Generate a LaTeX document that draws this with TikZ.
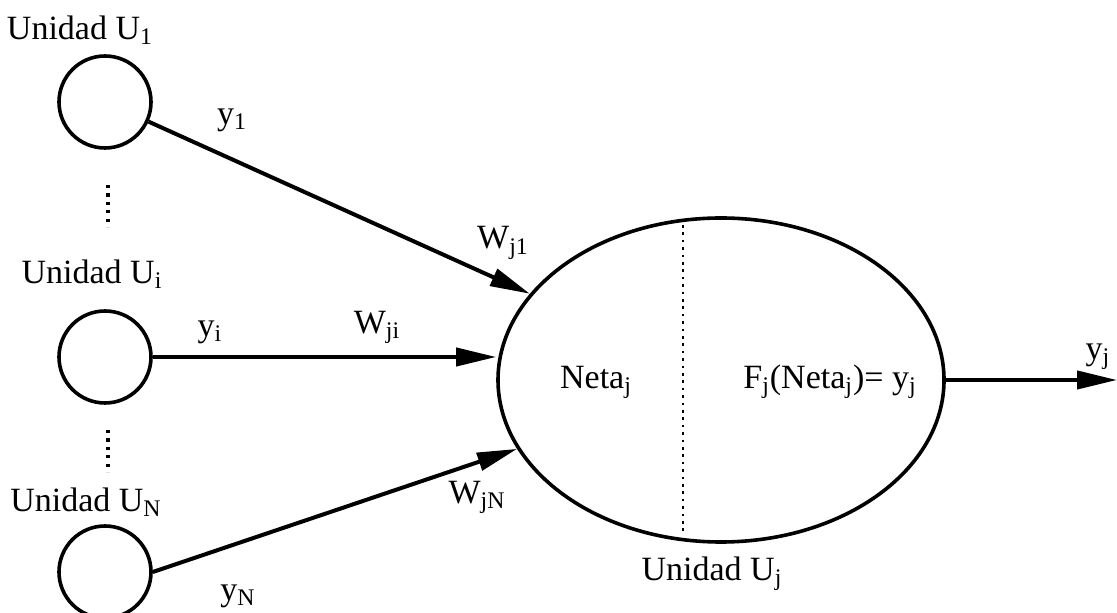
\documentclass[tikz,border=0pt]{standalone}
\usepackage{fontspec}
\setmainfont{Liberation Serif}
\usetikzlibrary{shapes.geometric, arrows.meta, calc}

\begin{document}
\begin{tikzpicture}[x=0.5pt,y=-0.5pt,font=\fontsize{17}{20}\selectfont,
  unit/.style={draw,circle,line width=1.8pt,minimum size=46pt,inner sep=0pt},
  cellbox/.style={draw,ellipse,line width=1.8pt,minimum width=223pt,minimum height=162pt,inner sep=0pt},
  arrow/.style={-{Triangle[length=20pt,width=9pt]},line width=2pt},
  dots/.style={line width=1.6pt,dash pattern=on 1.6pt off 2.6pt},
  divider/.style={line width=1.3pt,dash pattern=on 1.3pt off 2.4pt}]
  \useasboundingbox (0,0) rectangle (1117,613);
  % unidades de entrada
  \node[unit] (u1) at (105,102) {};
  \node[unit] (ui) at (105,357) {};
  \node[unit] (uN) at (105,572) {};
  \node (lu1) at (80,30) {Unidad U\textsubscript{1}};
  \node (lui) at (92,274) {Unidad U\textsubscript{i}};
  \node (luN) at (86,502) {Unidad U\textsubscript{N}};
  \draw[dots] (108,185) -- (108,227);
  \draw[dots] (108,430) -- (108,472);
  % unidad j
  \node[cellbox] (cell) at (721,380) {};
  \draw[divider] ($(cell.center)+(-38,-155)$) -- ($(cell.center)+(-38,155)$);
  \node (neta) at (596,382) {Neta\textsubscript{j}};
  \node (fun) at (830,382) {F\textsubscript{j}(Neta\textsubscript{j})= y\textsubscript{j}};
  \node (luj) at (712,574) {Unidad U\textsubscript{j}};
  % conexiones
  \coordinate (out) at (1117,380);
  \draw[arrow] (u1) -- (cell);
  \draw[arrow] (ui.east) -- (ui.east -| cell.west);
  \draw[arrow] (uN.east) -- (cell);
  \draw[arrow] (cell.east) -- (out);
  \node (y1) at (232,120) {y\textsubscript{1}};
  \node (yi) at (210,332) {y\textsubscript{i}};
  \node (yN) at (238,596) {y\textsubscript{N}};
  \node (yj) at (1098,357) {y\textsubscript{j}};
  \node (w1) at (503,243) {W\textsubscript{j1}};
  \node (wi) at (377,327) {W\textsubscript{ji}};
  \node (wN) at (477,497) {W\textsubscript{jN}};
\end{tikzpicture}
\end{document}
